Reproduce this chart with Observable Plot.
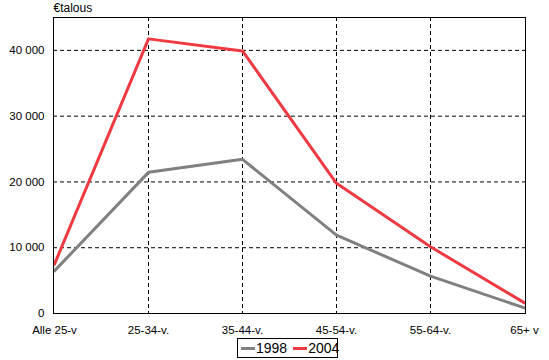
<!DOCTYPE html>
<html>
<head>
<meta charset="utf-8">
<script src="https://cdn.jsdelivr.net/npm/d3@7"></script>
<script src="https://cdn.jsdelivr.net/npm/@observablehq/plot@0.6"></script>
<style>
  html, body { margin: 0; padding: 0; background: #fff; }
  body { width: 549px; height: 360px; overflow: hidden; font-family: "Liberation Sans", Arial, sans-serif; }
  #legend { position: absolute; left: 237px; top: 338px; width: 99px; height: 18px; border: 1px solid #000; box-sizing: content-box;
    display: flex; align-items: center; font-size: 14px; color: #000; }
  .item { display: flex; align-items: center; }
  .sw { display: inline-block; width: 14px; height: 3px; margin-left: 3px; margin-right: 1px; }
</style>
</head>
<body>
<div id="chart"></div>
<div id="legend"></div>
<script>
const categories = ["Alle 25-v", "25-34-v.", "35-44-v.", "45-54-v.", "55-64-v.", "65+ v"];
const seriesNames = ["1998", "2004"];
const values1998 = [6480, 21460, 23440, 11920, 5680, 850];
const values2004 = [7500, 41750, 39920, 19790, 10140, 1610];
const yTicks = [0, 10000, 20000, 30000, 40000];
const colors = ["#808080", "#EF3A42"];

const rows = [];
categories.forEach((c, i) => {
  rows.push({cat: c, year: "1998", value: values1998[i]});
  rows.push({cat: c, year: "2004", value: values2004[i]});
});

const fmt = v => d3.format(",")(v).replace(/,/g, " ");

const chart = Plot.plot({
  width: 549,
  height: 336,
  marginLeft: 53,
  marginRight: 24,
  marginTop: 17,
  marginBottom: 23,
  style: {fontFamily: "'Liberation Sans', Arial, sans-serif", fontSize: "11.5px", color: "#000", background: "#fff"},
  x: {type: "point", domain: categories, padding: 0},
  y: {domain: [0, 45000]},
  color: {domain: seriesNames, range: colors},
  marks: [
    Plot.ruleY(yTicks.slice(1), {stroke: "#000", strokeDasharray: "4,3"}),
    Plot.ruleX(categories.slice(1, -1), {stroke: "#000", strokeDasharray: "4,3"}),
    Plot.line(rows, {x: "cat", y: "value", z: "year", stroke: "year", strokeWidth: 3}),
    Plot.frame({stroke: "#000"}),
    Plot.axisX({tickSize: 0, tickPadding: 12, label: null, fontSize: 11.5}),
    Plot.axisY({ticks: yTicks, tickSize: 0, tickPadding: 9, tickFormat: fmt, label: null, fontSize: 11.5}),
    Plot.text(["€talous"], {frameAnchor: "top-left", lineAnchor: "middle", dy: -9.5, textAnchor: "start", fontSize: 12})
  ]
});
document.getElementById("chart").appendChild(chart);

const legend = document.getElementById("legend");
seriesNames.forEach((s, i) => {
  const item = document.createElement("span");
  item.className = "item";
  const sw = document.createElement("span");
  sw.className = "sw";
  sw.style.background = colors[i];
  if (i > 0) sw.style.marginLeft = "6px";
  item.appendChild(sw);
  item.appendChild(document.createTextNode(s));
  legend.appendChild(item);
});
</script>
</body>
</html>
